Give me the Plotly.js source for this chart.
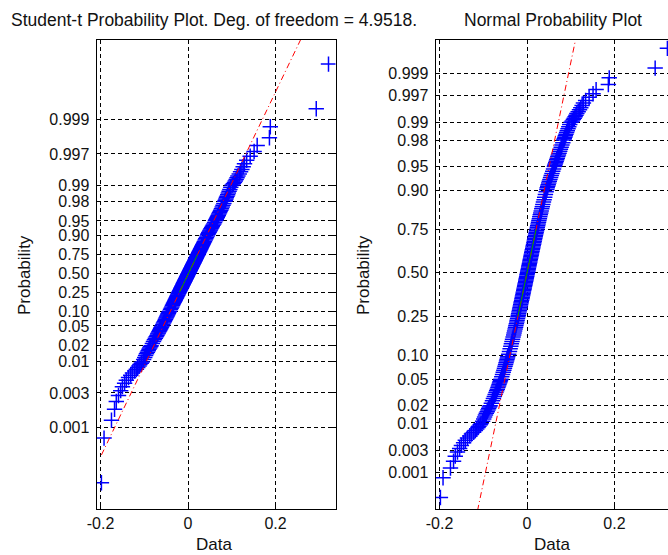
<!DOCTYPE html>
<html><head><meta charset="utf-8">
<script src="https://cdn.plot.ly/plotly-3.0.1.min.js"></script>
<style>html,body{margin:0;padding:0;overflow:hidden;background:#fff;width:668px;height:555px}</style>
</head><body><div id="chart" style="width:680px;height:555px"></div>
<script>
// ---- data: sorted sample values at their ranks (out of N_OBS) ----
const N_OBS = 2000;
const DF = 4.9518;
const tailLowRanks = [1,2,3,4,5,6,7,8,9,10,11,12,13,14,15,16,17,18,19];
const tailLowX = [-0.198,-0.192,-0.175,-0.168,-0.164,-0.159,-0.154,-0.150,-0.145,-0.141,-0.136,-0.131,-0.127,-0.122,-0.118,-0.115,-0.112,-0.110,-0.107];
const bandLowRanks = [20,22,24,26,28,30,32,34,36,38,40,
  44,48,52,56,60,64,68,72,76,80,84,88,92,96,100,
  108,116,124,132,140,148,156,164,172,180,188,196];
const bandLowX = [-0.1050,-0.1015,-0.0990,-0.0970,-0.0950,-0.0930,-0.0910,-0.0893,-0.0876,-0.0859,-0.0843,
  -0.0815,-0.0790,-0.0768,-0.0747,-0.0728,-0.0710,-0.0694,-0.0679,-0.0665,-0.0652,-0.0640,-0.0628,-0.0617,-0.0606,-0.0596,
  -0.0577,-0.0560,-0.0544,-0.0529,-0.0515,-0.0502,-0.0490,-0.0479,-0.0468,-0.0458,-0.0448,-0.0439];
const bandMidRanks = [208,224,240,256,272,288,304,320,336,352,368,384,400,416,432,448,464,480,496,512,
  528,544,560,576,592,608,624,640,656,672,688,704,720,736,752,768,784,800,816,832,
  848,864,880,896,912,928,944,960,976,992,1008,1024,1040,1056,1072,1088,1104,1120,1136,1152,
  1168,1184,1200,1216,1232,1248,1264,1280,1296,1312,1328,1344,1360,1376,1392,1408,1424,1440,1456,1472,
  1488,1504,1520,1536,1552,1568,1584,1600,1616,1632,1648,1664,1680,1696,1712,1728,1744,1760,1776,1792];
const bandMidX = [-0.0419,-0.0401,-0.0386,-0.0370,-0.0357,-0.0343,-0.0331,-0.0318,-0.0305,-0.0295,
  -0.0284,-0.0272,-0.0262,-0.0254,-0.0243,-0.0233,-0.0226,-0.0216,-0.0207,-0.0199,
  -0.0192,-0.0183,-0.0174,-0.0168,-0.0160,-0.0151,-0.0145,-0.0137,-0.0131,-0.0123,
  -0.0115,-0.0109,-0.0103,-0.0095,-0.0089,-0.0083,-0.0075,-0.0069,-0.0063,-0.0056,
  -0.0050,-0.0044,-0.0037,-0.0030,-0.0025,-0.0018,-0.0012,-0.0006,0.0000,0.0007,
  0.0013,0.0019,0.0026,0.0032,0.0038,0.0045,0.0051,0.0057,0.0064,0.0069,
  0.0076,0.0083,0.0089,0.0096,0.0102,0.0108,0.0115,0.0122,0.0130,0.0136,
  0.0143,0.0151,0.0157,0.0165,0.0172,0.0179,0.0188,0.0194,0.0203,0.0210,
  0.0219,0.0228,0.0236,0.0245,0.0254,0.0263,0.0272,0.0283,0.0292,0.0303,
  0.0314,0.0325,0.0337,0.0350,0.0362,0.0376,0.0391,0.0405,0.0421,0.0438];
const bandHighRanks = [1805,1813,1821,1829,1837,1845,1853,1861,1869,1877,1885,1893,1901,
  1905,1909,1913,1917,1921,1925,1929,1933,1937,1941,1945,1949,1953,1957,1961,
  1963,1965,1967,1969,1971,1973,1975,1977,1979];
const bandHighX = [0.0453,0.0462,0.0473,0.0485,0.0497,0.0510,0.0524,0.0539,0.0554,0.0571,0.0589,0.0607,0.0626,
  0.0635,0.0645,0.0656,0.0668,0.0680,0.0692,0.0704,0.0718,0.0733,0.0748,0.0764,0.0781,0.0799,0.0819,0.0841,
  0.0853,0.0865,0.0877,0.0891,0.0906,0.0921,0.0938,0.0956,0.0977];
const tailHighRanks = [1981,1982,1983,1984,1985,1986,1987,1988,1989,1990,1991,1992,1993,1994,1995,1996,1997,1998,1999,2000];
const tailHighX = [0.1010,0.1035,0.1060,0.1080,0.1100,0.1120,0.1140,0.1170,0.1200,0.1230,0.1260,0.1290,0.1340,0.1420,0.1510,0.1580,0.1860,0.1880,0.2930,0.3210];

// fitted reference lines (location, scale)
const tFitMu = 0.001, tFitSigma = 0.0285;
const nFitMu = 0.0, nFitSigma = 0.0307;
const fitXRange = [-0.198, 0.321];
const quartileProbs = [0.25, 0.75];

const probTicks = [0.001,0.003,0.01,0.02,0.05,0.10,0.25,0.50,0.75,0.90,0.95,0.98,0.99,0.997,0.999];
const probTickText = ['0.001','0.003','0.01','0.02','0.05','0.10','0.25','0.50','0.75','0.90','0.95','0.98','0.99','0.997','0.999'];
const xTicks = [-0.2, 0, 0.2];
const xTickText = ['-0.2','0','0.2'];
const titleLeft = 'Student-t Probability Plot. Deg. of freedom = 4.9518.';
const titleRight = 'Normal Probability Plot';

// ---- probability-paper scales ----
function gammaln(x){const c=[76.18009172947146,-86.50532032941677,24.01409824083091,-1.231739572450155,0.1208650973866179e-2,-0.5395239384953e-5];let y=x,tmp=x+5.5;tmp-=(x+0.5)*Math.log(tmp);let ser=1.000000000190015;for(let j=0;j<6;j++)ser+=c[j]/++y;return -tmp+Math.log(2.5066282746310005*ser/x);}
function betacf(a,b,x){const MAXIT=300,EPS=3e-14,FPMIN=1e-300;let qab=a+b,qap=a+1,qam=a-1,c=1,d=1-qab*x/qap;if(Math.abs(d)<FPMIN)d=FPMIN;d=1/d;let h=d;for(let m=1;m<=MAXIT;m++){const m2=2*m;let aa=m*(b-m)*x/((qam+m2)*(a+m2));d=1+aa*d;if(Math.abs(d)<FPMIN)d=FPMIN;c=1+aa/c;if(Math.abs(c)<FPMIN)c=FPMIN;d=1/d;h*=d*c;aa=-(a+m)*(qab+m)*x/((a+m2)*(qap+m2));d=1+aa*d;if(Math.abs(d)<FPMIN)d=FPMIN;c=1+aa/c;if(Math.abs(c)<FPMIN)c=FPMIN;d=1/d;const del=d*c;h*=del;if(Math.abs(del-1)<EPS)break;}return h;}
function ibeta(x,a,b){if(x<=0)return 0;if(x>=1)return 1;const bt=Math.exp(gammaln(a+b)-gammaln(a)-gammaln(b)+a*Math.log(x)+b*Math.log(1-x));if(x<(a+1)/(a+b+2))return bt*betacf(a,b,x)/a;return 1-bt*betacf(b,a,1-x)/b;}
function tcdf(t,df){const x=df/(df+t*t);const tail=0.5*ibeta(x,df/2,0.5);return t>0?1-tail:tail;}
function tinv(p,df){let lo=-200,hi=200;for(let i=0;i<200;i++){const mid=(lo+hi)/2;if(tcdf(mid,df)<p)lo=mid;else hi=mid;}return (lo+hi)/2;}
function norminv(p){const a=[-3.969683028665376e+01,2.209460984245205e+02,-2.759285104469687e+02,1.383577518672690e+02,-3.066479806614716e+01,2.506628277459239e+00];const b=[-5.447609879822406e+01,1.615858368580409e+02,-1.556989798598866e+02,6.680131188771972e+01,-1.328068155288572e+01];const c=[-7.784894002430293e-03,-3.223964580411365e-01,-2.400758277161838e+00,-2.549732539343734e+00,4.374664141464968e+00,2.938163982698783e+00];const d=[7.784695709041462e-03,3.224671290700398e-01,2.445134137142996e+00,3.754408661907416e+00];const pl=0.02425,ph=1-pl;let q,r;if(p<pl){q=Math.sqrt(-2*Math.log(p));return (((((c[0]*q+c[1])*q+c[2])*q+c[3])*q+c[4])*q+c[5])/((((d[0]*q+d[1])*q+d[2])*q+d[3])*q+1);}if(p<=ph){q=p-0.5;r=q*q;return (((((a[0]*r+a[1])*r+a[2])*r+a[3])*r+a[4])*r+a[5])*q/(((((b[0]*r+b[1])*r+b[2])*r+b[3])*r+b[4])*r+1);}q=Math.sqrt(-2*Math.log(1-p));return -(((((c[0]*q+c[1])*q+c[2])*q+c[3])*q+c[4])*q+c[5])/((((d[0]*q+d[1])*q+d[2])*q+d[3])*q+1);}
const tScale = p => tinv(p, DF);
const nScale = p => norminv(p);

const ranks = [].concat(tailLowRanks, bandLowRanks, bandMidRanks, bandHighRanks, tailHighRanks);
const dataX = [].concat(tailLowX, bandLowX, bandMidX, bandHighX, tailHighX);
const probs = ranks.map(r => (r - 0.5) / N_OBS);   // plotting positions

const W = 680, H = 555;
const px = v => v / W, py = v => 1 - v / H;
const FONT = 'Liberation Sans, Arial, Helvetica, sans-serif';
const TXT = '#111';

const marker = {symbol:'cross-thin-open', size:11, color:'#0000ff', line:{color:'#0000ff', width:1.5}};
const traces = [];
function addPanel(scale, mu, sigma, xa, ya){
  traces.push({type:'scatter', mode:'markers', x:dataX, y:probs.map(scale), marker, xaxis:xa, yaxis:ya, hoverinfo:'skip'});
  traces.push({type:'scatter', mode:'lines', x:fitXRange, y:fitXRange.map(v=>(v-mu)/sigma),
    line:{color:'#ff0000', width:1, dash:'6px,3px,1px,3px'}, xaxis:xa, yaxis:ya, hoverinfo:'skip'});
  const qy = quartileProbs.map(scale);
  traces.push({type:'scatter', mode:'lines', x:qy.map(v=>mu+sigma*v), y:qy,
    line:{color:'#00a000', width:1}, xaxis:xa, yaxis:ya, hoverinfo:'skip'});
}
addPanel(tScale, tFitMu, tFitSigma, 'x', 'y');
addPanel(nScale, nFitMu, nFitSigma, 'x2', 'y2');

const common = {showgrid:true, gridcolor:'#000', griddash:'4px,3px', gridwidth:1, zeroline:false,
  showline:true, linecolor:'#000', linewidth:1, mirror:'ticks', ticks:'inside', ticklen:4, tickcolor:'#000',
  tickfont:{family:FONT, size:16, color:TXT}, fixedrange:true};
const yL = probTicks.map(tScale), yR = probTicks.map(nScale);
const layout = {
  width:W, height:H, margin:{l:0,r:0,t:0,b:0}, paper_bgcolor:'#fff', plot_bgcolor:'#fff', showlegend:false,
  xaxis:Object.assign({}, common, {domain:[px(96.6), px(335.5)], range:[-0.209,0.337], tickmode:'array', tickvals:xTicks, ticktext:xTickText, anchor:'y'}),
  yaxis:Object.assign({}, common, {domain:[py(509), py(40)], range:[-9.06,8.98], tickmode:'array', tickvals:yL, ticktext:probTickText, anchor:'x', ticklabelstandoff:3}),
  xaxis2:Object.assign({}, common, {domain:[px(435.6), px(674.4)], range:[-0.209,0.337], tickmode:'array', tickvals:xTicks, ticktext:xTickText, anchor:'y2'}),
  yaxis2:Object.assign({}, common, {domain:[py(509), py(40)], range:[-3.66,3.61], tickmode:'array', tickvals:yR, ticktext:probTickText, anchor:'x2', ticklabelstandoff:3}),
  annotations:[
    {text:titleLeft, x:px(214), y:py(20), xref:'paper', yref:'paper', showarrow:false, xanchor:'center', yanchor:'middle', font:{family:FONT,size:17.5,color:TXT}},
    {text:titleRight, x:px(553), y:py(20), xref:'paper', yref:'paper', showarrow:false, xanchor:'center', yanchor:'middle', font:{family:FONT,size:17.5,color:TXT}},
    {text:'Data', x:px(214), y:py(544), xref:'paper', yref:'paper', showarrow:false, xanchor:'center', yanchor:'middle', font:{family:FONT,size:17,color:TXT}},
    {text:'Data', x:px(552), y:py(544), xref:'paper', yref:'paper', showarrow:false, xanchor:'center', yanchor:'middle', font:{family:FONT,size:17,color:TXT}},
    {text:'Probability', x:px(24), y:py(275), xref:'paper', yref:'paper', showarrow:false, textangle:-90, xanchor:'center', yanchor:'middle', font:{family:FONT,size:17,color:TXT}},
    {text:'Probability', x:px(363), y:py(275), xref:'paper', yref:'paper', showarrow:false, textangle:-90, xanchor:'center', yanchor:'middle', font:{family:FONT,size:17,color:TXT}}
  ]
};
Plotly.newPlot('chart', traces, layout, {staticPlot:true, displayModeBar:false});
</script></body></html>
